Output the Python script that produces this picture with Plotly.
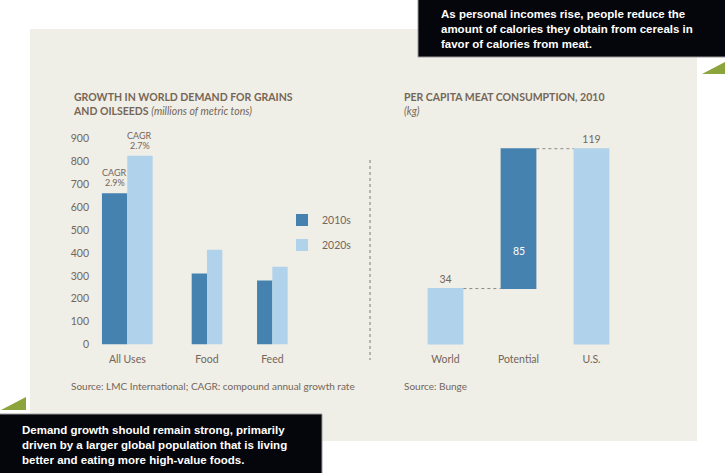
import plotly.graph_objects as go

# ---------------- data ----------------
grain_categories = ["All Uses", "Food", "Feed"]
grain_2010s = [662, 310, 280]
grain_2020s = [826, 414, 340]
cagr_label = "CAGR"
cagr_all_uses = ["2.9%", "2.7%"]

meat_categories = ["World", "Potential", "U.S."]
meat_values = [34, 85, 119]
meat_measures = ["absolute", "relative", "total"]

left_ticks = [0, 100, 200, 300, 400, 500, 600, 700, 800, 900]

# ---------------- style ----------------
W, H = 725, 473
DARK = "#4682b0"
LIGHT = "#b0d2ea"
TXT = "#74665a"
TITLE = "#766656"
PANEL = "#efeee7"
GREEN = "#8ba43c"
FONT = "Lato, 'Open Sans', sans-serif"
CALLOUT_FONT = "'Liberation Sans', Arial, sans-serif"


def xp(px):
    return px / W


def yp(py):
    return 1 - py / H


# layout positions of the left categories (non-uniform spacing) and bar widths
left_pos = [0.0, 1.0, 1.82]
left_w = [0.318, 0.192, 0.192]

fig = go.Figure()

fig.add_trace(go.Bar(
    x=left_pos, y=grain_2010s, width=left_w, offset=[-w for w in left_w],
    marker=dict(color=DARK, line=dict(width=0)), name="2010s",
    legendgroup="a", xaxis="x", yaxis="y", hoverinfo="skip"))
fig.add_trace(go.Bar(
    x=left_pos, y=grain_2020s, width=left_w, offset=[0, 0, 0],
    marker=dict(color=LIGHT, line=dict(width=0)), name="2020s",
    legendgroup="b", xaxis="x", yaxis="y", hoverinfo="skip"))

fig.add_trace(go.Waterfall(
    x=meat_categories, y=meat_values, measure=meat_measures,
    text=[str(meat_values[0]), "", str(meat_values[2])],
    textposition="outside", cliponaxis=False,
    outsidetextfont=dict(color=TXT, size=10.5, family=FONT),
    increasing=dict(marker=dict(color=DARK)),
    decreasing=dict(marker=dict(color=DARK)),
    totals=dict(marker=dict(color=LIGHT)),
    connector=dict(mode="between", line=dict(color="#8a8a8a", width=1, dash="dot")),
    width=0.49, showlegend=False, xaxis="x2", yaxis="y2", hoverinfo="skip"))

y_dom = [yp(344.5), yp(127.3)]

fig.update_layout(
    width=W, height=H,
    margin=dict(l=0, r=0, t=0, b=0, autoexpand=False),
    paper_bgcolor="white", plot_bgcolor="rgba(0,0,0,0)",
    font=dict(family=FONT, color=TXT, size=10.5),
    barmode="overlay",
    xaxis=dict(domain=[xp(90), xp(300)], range=[-0.468, 2.167],
               tickvals=left_pos, ticktext=grain_categories, automargin=False,
               showgrid=False, zeroline=False, showline=False, ticks="",
               ticklabelstandoff=7,
               tickfont=dict(size=10.5, color=TXT)),
    yaxis=dict(domain=y_dom, range=[0, 950], tickvals=left_ticks, automargin=False,
               showgrid=False, zeroline=False, showline=False, ticks="",
               tickfont=dict(size=10.5, color=TXT)),
    xaxis2=dict(domain=[xp(401.7), xp(635.3)], range=[-0.6, 2.6], automargin=False,
                type="category", showgrid=False, zeroline=False,
                showline=False, ticks="", ticklabelstandoff=7,
                tickfont=dict(size=10.5, color=TXT)),
    yaxis2=dict(domain=y_dom, range=[0, 132], anchor="x2", automargin=False,
                showgrid=False, zeroline=False, showline=False,
                showticklabels=False),
    legend=dict(x=xp(282), y=yp(205.5), xanchor="left", yanchor="top",
                bgcolor="rgba(0,0,0,0)", tracegroupgap=6,
                font=dict(size=10.5, color=TXT)),
    showlegend=True,
)

shapes = [
    dict(type="rect", xref="paper", yref="paper", x0=xp(30), x1=xp(697),
         y0=yp(441), y1=yp(29), fillcolor=PANEL, line=dict(width=0), layer="below"),
    dict(type="line", xref="paper", yref="paper", x0=xp(370), x1=xp(370),
         y0=yp(160), y1=yp(360), line=dict(color="#a0a0a0", width=1.5, dash="dot")),
    dict(type="rect", xref="paper", yref="paper", x0=xp(418), x1=xp(726),
         y0=yp(57), y1=yp(-1), fillcolor="#05050c", line=dict(color="#9a9a9a", width=1)),
    dict(type="rect", xref="paper", yref="paper", x0=xp(-1), x1=xp(322),
         y0=yp(474), y1=yp(414), fillcolor="#05050c", line=dict(color="#9a9a9a", width=1)),
    dict(type="path", xref="paper", yref="paper",
         path=f"M {xp(702)},{yp(74)} L {xp(725)},{yp(62)} L {xp(725)},{yp(74)} Z",
         fillcolor=GREEN, line=dict(width=0)),
    dict(type="path", xref="paper", yref="paper",
         path=f"M {xp(1)},{yp(410)} L {xp(26)},{yp(397)} L {xp(26)},{yp(410)} Z",
         fillcolor=GREEN, line=dict(width=0)),
]

annotations = [
    dict(x=xp(71), y=yp(89), xref="paper", yref="paper", xanchor="left", yanchor="top",
         align="left", showarrow=False,
         text="<b>GROWTH IN WORLD DEMAND FOR GRAINS<br>AND OILSEEDS</b> <i>(millions of metric tons)</i>",
         font=dict(size=10.5, color=TITLE, family=FONT)),
    dict(x=xp(402), y=yp(89), xref="paper", yref="paper", xanchor="left", yanchor="top",
         align="left", showarrow=False,
         text="<b>PER CAPITA MEAT CONSUMPTION, 2010</b><br><i>(kg)</i>",
         font=dict(size=10.5, color=TITLE, family=FONT)),
    dict(x=xp(69), y=yp(386), xref="paper", yref="paper", xanchor="left", yanchor="middle",
         showarrow=False, text="Source: LMC International; CAGR: compound annual growth rate",
         font=dict(size=10, color=TXT, family=FONT)),
    dict(x=xp(402), y=yp(386), xref="paper", yref="paper", xanchor="left", yanchor="middle",
         showarrow=False, text="Source: Bunge",
         font=dict(size=10, color=TXT, family=FONT)),
    dict(x=meat_categories[1], y=meat_values[0] + meat_values[1] * 0.27, xref="x2", yref="y2",
         showarrow=False, text=str(meat_values[1]),
         font=dict(size=10.5, color="white", family=FONT)),
    dict(x=xp(439), y=yp(6), xref="paper", yref="paper", xanchor="left", yanchor="top",
         align="left", showarrow=False,
         text="As personal incomes rise, people reduce the<br>amount of calories they obtain from cereals in<br>favor of calories from meat.",
         font=dict(size=11.5, color="white", family=CALLOUT_FONT, weight="bold")),
    dict(x=xp(20), y=yp(422), xref="paper", yref="paper", xanchor="left", yanchor="top",
         align="left", showarrow=False,
         text="Demand growth should remain strong, primarily<br>driven by a larger global population that is living<br>better and eating more high-value foods.",
         font=dict(size=11.5, color="white", family=CALLOUT_FONT, weight="bold")),
]

# CAGR labels above the All Uses bars (two tight lines each)
cagr_x = [left_pos[0] - left_w[0] / 2, left_pos[0] + left_w[0] / 2]
cagr_y = [grain_2010s[0], grain_2020s[0]]
for cx, cy, val in zip(cagr_x, cagr_y, cagr_all_uses):
    annotations.append(dict(x=cx, y=cy, xref="x", yref="y", xanchor="center",
                            yanchor="bottom", yshift=3, showarrow=False, text=val,
                            font=dict(size=9, color=TXT, family=FONT)))
    annotations.append(dict(x=cx, y=cy, xref="x", yref="y", xanchor="center",
                            yanchor="bottom", yshift=13, showarrow=False, text=cagr_label,
                            font=dict(size=9, color=TXT, family=FONT)))

fig.update_layout(shapes=shapes, annotations=annotations)

fig.write_html("out.html", config={"displayModeBar": False},
               post_script="document.body.style.margin='0';")
